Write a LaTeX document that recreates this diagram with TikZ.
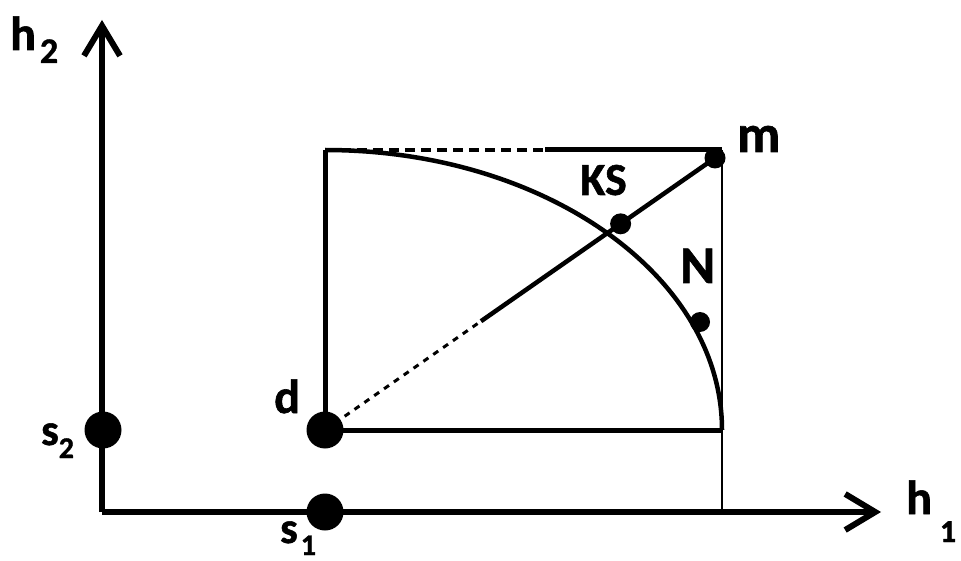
\documentclass[tikz,border=0pt]{standalone}
\usepackage{fontspec}
\setmainfont{Carlito}[BoldFeatures={FakeBold=1.2}]
\usetikzlibrary{arrows.meta,calc}
\begin{document}
\begin{tikzpicture}[x=1pt,y=-1pt,
  axisline/.style={line width=6pt,-{Straight Barb[length=30pt,width=36pt]}},
  frameline/.style={line width=5pt},
  thinline/.style={line width=2.8pt},
  curveline/.style={line width=4.5pt},
  diagline/.style={line width=4.5pt},
  dashtop/.style={line width=4.5pt,dash pattern=on 10pt off 6pt},
  dashdiag/.style={line width=3pt,dash pattern=on 6pt off 6pt},
  bigdot/.style={circle,fill=black,inner sep=0pt,minimum size=37pt},
  smalldot/.style={circle,fill=black,inner sep=0pt,minimum size=21pt},
  lbl/.style={inner sep=0pt,anchor=base west,font=\bfseries\fontsize{48}{48}\selectfont},
  lblbig/.style={inner sep=0pt,anchor=base west,font=\bfseries\fontsize{53}{53}\selectfont},
  lblks/.style={inner sep=0pt,anchor=base west,font=\bfseries\fontsize{46}{46}\selectfont},
  lbls/.style={inner sep=0pt,anchor=base west,font=\bfseries\fontsize{44}{44}\selectfont}
]
\useasboundingbox (0,0) rectangle (961,561);
% coordinates
\coordinate (O) at (102,512);
\coordinate (Ytip) at (102,20);
\coordinate (Xtip) at (881,512);
\coordinate (TL) at (325,150);
\coordinate (TB) at (545,150);
\coordinate (TR) at (722,150);
\coordinate (BR) at (722,430);
\coordinate (R) at (722,512);
% dots
\node[bigdot] (s2) at (103,430) {};
\node[bigdot] (d) at (325,430) {};
\node[bigdot] (s1) at (325,512) {};
\node[smalldot] (m) at (715,158) {};
\coordinate (dm) at ($(d.center)!0.4!(m.center)$);
% axes
\draw[axisline] (O) -- (Ytip);
\draw[axisline] (O) -- (Xtip);
% frame
\draw[frameline] (d.center) -- (TL);
\draw[frameline] (d.center) -- (BR);
\draw[dashtop] (TL) -- (TB);
\draw[frameline] (TB) -- (TR);
\draw[thinline] (TR) -- (R);
% curve
\draw[curveline] (TL) arc[start angle=90,end angle=0,x radius=397pt,y radius=280pt];
% diagonal
\draw[dashdiag] (d.center) -- (dm);
\draw[diagline] (dm) -- (m.center);
\node[smalldot] (ks) at ($(d.center)!0.758!(m.center)$) {};
\node[smalldot,minimum size=20pt] (n) at (700,322) {};
% labels
\node[lbl] (h2l) at (10,50) {h\hspace{4pt}\raisebox{-13pt}{\fontsize{36}{36}\selectfont 2}};
\node[lbl] (h1l) at (906,514) {h\hspace{8pt}\raisebox{-28pt}{\fontsize{32}{32}\selectfont 1}};
\node[lbls] (s2l) at (41,445) {s\raisebox{-13pt}{\fontsize{30}{30}\selectfont 2}};
\node[lbls] (s1l) at (280,543) {s\hspace{3pt}\raisebox{-12pt}{\fontsize{30}{30}\selectfont 1}};
\node[lbl] (dl) at (274,413) {d};
\node[lblbig] (ml) at (737,152) {m};
\node[lblbig] (nl) at (680,283) {N};
\node[lblks] (ksl) at (580,195) {KS};
\end{tikzpicture}
\end{document}
